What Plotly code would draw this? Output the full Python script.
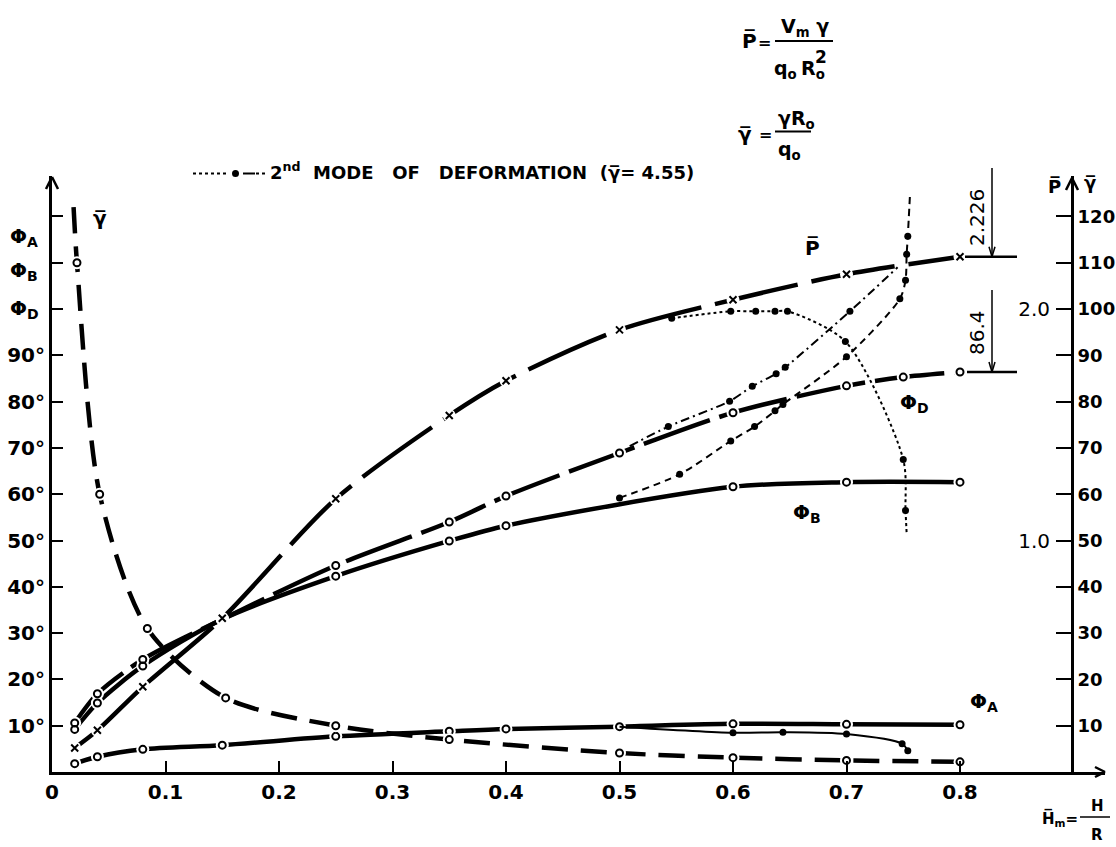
import plotly.graph_objects as go

# ---------------- data ----------------
# 1st mode of deformation
hm_p = [0.02, 0.04, 0.08, 0.15, 0.25, 0.35, 0.40, 0.50, 0.60, 0.70, 0.80]
p_bar = [0.104, 0.18, 0.368, 0.664, 1.18, 1.54, 1.69, 1.91, 2.04, 2.15, 2.226]

hm_phiD = [0.02, 0.04, 0.08, 0.15, 0.25, 0.35, 0.40, 0.50, 0.60, 0.70, 0.75, 0.80]
phi_D = [10.6, 16.9, 24.3, 33.0, 44.6, 54.0, 59.6, 68.9, 77.6, 83.4, 85.3, 86.4]

hm_phiB = [0.02, 0.04, 0.08, 0.15, 0.25, 0.35, 0.40, 0.60, 0.70, 0.80]
phi_B = [9.2, 14.9, 22.9, 33.0, 42.3, 49.9, 53.2, 61.6, 62.6, 62.6]

hm_phiA = [0.02, 0.04, 0.08, 0.15, 0.25, 0.35, 0.40, 0.50, 0.60, 0.70, 0.80]
phi_A = [1.8, 3.3, 4.9, 5.8, 7.7, 8.8, 9.3, 9.8, 10.4, 10.3, 10.2]

hm_gam = [0.019, 0.022, 0.042, 0.084, 0.153, 0.25, 0.35, 0.50, 0.60, 0.70, 0.80]
gamma_bar = [122, 110, 60, 31, 16, 10, 7, 4.1, 3.1, 2.5, 2.2]

# 2nd mode of deformation (gamma_bar = 4.55)
hm_p2 = [0.546, 0.598, 0.620, 0.637, 0.648, 0.699, 0.750, 0.752, 0.753]
p_bar2 = [1.96, 1.99, 1.99, 1.99, 1.99, 1.86, 1.35, 1.13, 1.03]

hm_phiD2 = [0.509, 0.543, 0.597, 0.617, 0.638, 0.646, 0.703, 0.745]
phi_D2 = [70.4, 74.6, 80.1, 83.3, 86.0, 87.4, 99.5, 109.0]

hm_phiB2 = [0.50, 0.553, 0.598, 0.619, 0.637, 0.644, 0.70, 0.747, 0.752, 0.753, 0.754, 0.756]
phi_B2 = [59.2, 64.3, 71.5, 74.6, 78.0, 79.4, 89.7, 102.2, 106.2, 111.8, 115.7, 125.0]

hm_phiA2 = [0.50, 0.60, 0.644, 0.70, 0.749, 0.754]
phi_A2 = [9.8, 8.5, 8.6, 8.2, 6.1, 4.6]

# axis ticks
x_ticks = [0, 0.1, 0.2, 0.3, 0.4, 0.5, 0.6, 0.7, 0.8]
x_ticktext = ["0", "0.1", "0.2", "0.3", "0.4", "0.5", "0.6", "0.7", "0.8"]
deg_ticks = [10, 20, 30, 40, 50, 60, 70, 80, 90]
deg_ticktext = ["10°", "20°", "30°", "40°", "50°", "60°", "70°", "80°", "90°"]
deg_minor_ticks = [100, 110, 120]
gam_ticks = [10, 20, 30, 40, 50, 60, 70, 80, 90, 100, 110, 120]
gam_ticktext = ["10", "20", "30", "40", "50", "60", "70", "80", "90", "100", "110", "120"]
p_ticks = [1.0, 2.0]
p_ticktext = ["1.0", "2.0"]

# ---------------- geometry ----------------
W_FIG, H_FIG = 1116, 847
L, R, T, B = 52, 11, 176, 75
PXX, PXY = 1135.0, 4.63          # pixels per unit of Hm, pixels per degree
XR = (W_FIG - L - R) / PXX
YR = (H_FIG - T - B) / PXY
PW = W_FIG - L - R
PH = H_FIG - T - B
FONT = "DejaVu Sans"


def PX(px):
    return (px - L) / PW


def PY(py):
    return (H_FIG - B - py) / PH


def ann(text, px, py, size=20, bold=True, xanchor="center", yanchor="middle", angle=0):
    return dict(text=text, x=PX(px), y=PY(py), xref="paper", yref="paper",
                showarrow=False, xanchor=xanchor, yanchor=yanchor, textangle=angle,
                font=dict(family=FONT, size=size, color="black",
                          weight="bold" if bold else "normal"))


def seg(x0, y0, x1, y1, w=2, dash="solid"):
    return dict(type="line", xref="paper", yref="paper",
                x0=PX(x0), y0=PY(y0), x1=PX(x1), y1=PY(y1),
                line=dict(color="black", width=w, dash=dash), layer="above")


fig = go.Figure()
LW = 4.5

# main (1st mode) curves
main = [
    (hm_phiA, phi_A, "y", "solid", "circle-open"),
    (hm_phiB, phi_B, "y", "solid", "circle-open"),
    (hm_phiD, phi_D, "y", "70px,10px", "circle-open"),
    (hm_p, p_bar, "y3", "85px,14px", "x-thin-open"),
    (hm_gam, gamma_bar, "y2", "26px,13px", "circle-open"),
]
for xs, ys, ax, dash, sym in main:
    fig.add_trace(go.Scatter(x=xs, y=ys, yaxis=ax, mode="lines",
                             line=dict(color="black", width=LW, dash=dash, shape="spline", smoothing=0.8),
                             hoverinfo="skip", showlegend=False))
for xs, ys, ax, dash, sym in main:
    mx, my = (xs[1:], ys[1:]) if ax == "y2" else (xs, ys)
    fig.add_trace(go.Scatter(x=mx, y=my, yaxis=ax, mode="markers",
                             marker=dict(symbol="circle", size=13, color="white"),
                             hoverinfo="skip", showlegend=False, cliponaxis=False))
for xs, ys, ax, dash, sym in main:
    mx, my = (xs[1:], ys[1:]) if ax == "y2" else (xs, ys)
    fig.add_trace(go.Scatter(x=mx, y=my, yaxis=ax, mode="markers",
                             marker=dict(symbol=sym, size=7, color="black", line=dict(width=2, color="black")),
                             showlegend=False, cliponaxis=False))

# 2nd mode curves: thin lines with filled dots
second = [
    (hm_p2, p_bar2, "y3", "3px,3px", slice(0, -1)),
    (hm_phiD2, phi_D2, "y", "9px,4px,2px,4px", slice(1, -1)),
    (hm_phiB2, phi_B2, "y", "7px,5px", slice(0, -1)),
    (hm_phiA2, phi_A2, "y", "solid", slice(1, None)),
]
for xs, ys, ax, dash, sl in second:
    fig.add_trace(go.Scatter(x=xs, y=ys, yaxis=ax, mode="lines",
                             line=dict(color="black", width=2, dash=dash, shape="spline", smoothing=0.8),
                             hoverinfo="skip", showlegend=False))
    fig.add_trace(go.Scatter(x=xs[sl], y=ys[sl], yaxis=ax, mode="markers",
                             marker=dict(symbol="circle", size=7, color="black"),
                             showlegend=False, cliponaxis=False))

tickfont_b = dict(family=FONT, size=20, color="black", weight="bold")

fig.update_layout(
    width=W_FIG, height=H_FIG,
    margin=dict(l=L, r=R, t=T, b=B, autoexpand=False),
    paper_bgcolor="white", plot_bgcolor="white",
    showlegend=False,
    xaxis=dict(range=[0, XR], showline=True, linewidth=3, linecolor="black",
               ticks="inside", ticklen=11, tickwidth=2, tickcolor="black",
               tickvals=x_ticks, ticktext=x_ticktext, tickfont=tickfont_b,
               showgrid=False, zeroline=False, fixedrange=True),
    yaxis=dict(range=[0, YR], showline=True, linewidth=3, linecolor="black",
               ticks="inside", ticklen=11, tickwidth=2, tickcolor="black",
               tickvals=deg_ticks, ticktext=deg_ticktext, tickfont=tickfont_b,
               minor=dict(tickvals=deg_minor_ticks, ticks="inside", ticklen=11,
                          tickwidth=2, tickcolor="black", showgrid=False),
               showgrid=False, zeroline=False, fixedrange=True),
    yaxis2=dict(range=[0, YR], overlaying="y", anchor="free", position=(1072 - L) / PW,
                side="right", showline=True, linewidth=3, linecolor="black",
                ticks="inside", ticklen=15, tickwidth=2, tickcolor="black",
                tickvals=gam_ticks, ticktext=gam_ticktext,
                tickfont=dict(family=FONT, size=18, color="black", weight="bold"),
                showgrid=False, zeroline=False, fixedrange=True),
    yaxis3=dict(range=[0, YR / 50.0], overlaying="y", anchor="free", position=(1072 - L) / PW,
                side="left", showline=False, ticks="", ticklabelstandoff=22,
                tickvals=p_ticks, ticktext=p_ticktext,
                tickfont=dict(family=FONT, size=20, color="black"),
                showgrid=False, zeroline=False, fixedrange=True),
)

shapes = []
# axis arrow heads
shapes += [seg(46, 189, 52, 177, 2.5), seg(58, 189, 52, 177, 2.5)]
shapes += [seg(1066, 190, 1072, 178, 2.5), seg(1078, 190, 1072, 178, 2.5)]
shapes += [seg(1095, 767, 1105, 772, 2.5), seg(1095, 777, 1105, 772, 2.5)]
# dimension arrows at right
y_p_end = H_FIG - B - p_bar[-1] * 50 * PXY
y_d_end = H_FIG - B - phi_D[-1] * PXY
shapes += [seg(965, y_p_end, 1017, y_p_end, 2.5), seg(967, y_d_end, 1017, y_d_end, 2.5)]
shapes += [seg(992, 168, 992, y_p_end, 1.5), seg(989, y_p_end - 10, 992, y_p_end, 1.5),
           seg(995, y_p_end - 10, 992, y_p_end, 1.5)]
shapes += [seg(992, 290, 992, y_d_end, 1.5), seg(989, y_d_end - 10, 992, y_d_end, 1.5),
           seg(995, y_d_end - 10, 992, y_d_end, 1.5)]
# formula fraction bars
shapes += [seg(775, 41, 833, 41, 2), seg(775, 131.5, 811, 131.5, 2), seg(1080, 817, 1110, 817, 1.5)]
# legend sample for 2nd mode
shapes += [seg(193, 173.5, 228, 173.5, 2, "dot"), seg(243, 173.5, 255, 173.5, 2),
           seg(256, 173.5, 267, 173.5, 2, "dot")]
shapes += [dict(type="circle", xref="paper", yref="paper", x0=PX(232), x1=PX(239),
                y0=PY(177), y1=PY(170), fillcolor="black", line=dict(color="black", width=0))]
fig.update_layout(shapes=shapes)

OV = "\u0305"
annotations = [
    # formulas
    ann("P" + OV, 749, 41, 20), ann("=", 764, 43, 16),
    ann("V<sub>m</sub> γ", 779, 27, 19, xanchor="left"),
    ann("q<sub>o</sub>", 772, 70, 19, xanchor="left"),
    ann("R<sub>o</sub>", 799, 70, 19, xanchor="left"),
    ann("2", 821, 57, 17),
    ann("γ" + OV, 745, 134, 20), ann("=", 765, 134, 16),
    ann("γR<sub>o</sub>", 776, 119, 19, xanchor="left"),
    ann("q<sub>o</sub>", 776, 150, 19, xanchor="left"),
    # legend text
    ann("2<sup>nd</sup>\u00a0 MODE\u00a0\u00a0 OF\u00a0\u00a0 DEFORMATION\u00a0 (γ" + OV + "= 4.55)",
        268, 171, 18, xanchor="left"),
    # left axis labels
    ann("Φ<sub>A</sub>", 8, 237, 20, xanchor="left"),
    ann("Φ<sub>B</sub>", 8, 271, 20, xanchor="left"),
    ann("Φ<sub>D</sub>", 8, 309, 20, xanchor="left"),
    # curve labels
    ann("γ" + OV, 100, 218, 20),
    ann("P" + OV, 812, 248, 20),
    ann("Φ<sub>D</sub>", 898, 403, 20, xanchor="left"),
    ann("Φ<sub>B</sub>", 791, 513, 20, xanchor="left"),
    ann("Φ<sub>A</sub>", 968, 702, 20, xanchor="left"),
    # right axis titles
    ann("P" + OV, 1054, 187, 18),
    ann("γ" + OV, 1090, 183, 18),
    # dimension values
    ann("2.226", 977, 218, 20, bold=False, angle=-90),
    ann("86.4", 977, 333, 20, bold=False, angle=-90),
    # x axis title
    ann("H" + OV + "<sub>m</sub>=", 1040, 818, 15, xanchor="left"),
    ann("H", 1097, 806, 15),
    ann("R", 1097, 835, 15),
]
fig.update_layout(annotations=annotations)

fig.write_html("out.html", include_plotlyjs=True, full_html=True,
               config={"displayModeBar": False},
               post_script="document.body.style.margin='0';document.body.style.overflow='hidden';")
